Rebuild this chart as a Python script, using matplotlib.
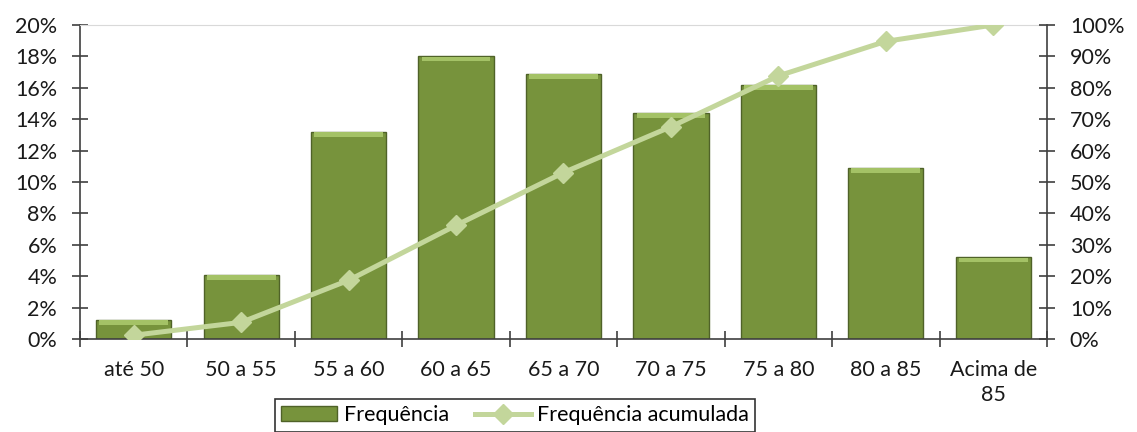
import numpy as np
import matplotlib
matplotlib.use("Agg")
import matplotlib.pyplot as plt
from matplotlib.ticker import PercentFormatter

plt.rcParams['font.family'] = ['Lato', 'DejaVu Sans']

# data
categorias = ['até 50', '50 a 55', '55 a 60', '60 a 65', '65 a 70',
              '70 a 75', '75 a 80', '80 a 85', 'Acima de\n85']
frequencia = [1.2, 4.1, 13.2, 18.0, 16.9, 14.4, 16.2, 10.9, 5.2]
acumulada = [1.2, 5.3, 18.7, 36.2, 53.0, 67.6, 83.8, 94.8, 100.0]

verde = '#77933C'
verde_escuro = '#4F6228'
verde_claro = '#C3D69B'
cinza = '#404040'
texto = '#1a1a1a'

fig = plt.figure(figsize=(11.37, 4.32), dpi=100)
ax = fig.add_axes([0.0704, 0.2153, 0.8504, 0.7268])
x = np.arange(len(categorias))

# bars with a lighter bevel strip on top
ax.bar(x, frequencia, width=0.7, color=verde, edgecolor=verde_escuro,
       linewidth=1, zorder=2, label='Frequência')
ax.bar(x, [0.3] * len(x), bottom=np.array(frequencia) - 0.32, width=0.64,
       color='#A4C266', linewidth=0, zorder=3)

ax.set_xlim(-0.5, len(x) - 0.5)
ax.set_ylim(0, 20)
ax.set_yticks(np.arange(0, 21, 2))
ax.yaxis.set_major_formatter(PercentFormatter(decimals=0))
ax.set_xticks(x)
ax.set_xticklabels(categorias, linespacing=1.3)
ax.set_xticks(np.arange(-0.5, len(x), 1), minor=True)
ax.tick_params(axis='x', which='major', length=0, pad=15, labelsize=15.5, colors=texto)
ax.tick_params(axis='x', which='minor', direction='inout', length=12, width=1.2, color=cinza)
ax.tick_params(axis='y', direction='inout', length=11, width=1.2, color=cinza,
               labelsize=15.5, labelcolor=texto, pad=11)

for s in ['left', 'bottom']:
    ax.spines[s].set_color(cinza)
    ax.spines[s].set_linewidth(1.2)
ax.spines['right'].set_visible(False)
ax.spines['top'].set_color('#D9D9D9')

ax2 = ax.twinx()
ax2.plot(x, acumulada, color=verde_claro, linewidth=3.6, marker='D',
         markersize=10, zorder=4, label='Frequência acumulada')
ax2.set_ylim(0, 100)
ax2.set_yticks(np.arange(0, 101, 10))
ax2.yaxis.set_major_formatter(PercentFormatter(decimals=0))
ax2.tick_params(axis='y', direction='inout', length=11, width=1.2, color=cinza,
                labelsize=15.5, labelcolor=texto, pad=11)
ax2.spines['right'].set_color(cinza)
ax2.spines['right'].set_linewidth(1.2)
for s in ['left', 'top', 'bottom']:
    ax2.spines[s].set_visible(False)

h1, l1 = ax.get_legend_handles_labels()
h2, l2 = ax2.get_legend_handles_labels()
leg = fig.legend(h1 + h2, l1 + l2, loc='upper center', bbox_to_anchor=(0.453, 0.102),
                 ncol=2, fontsize=15.5, frameon=True, fancybox=False,
                 handlelength=2.6, columnspacing=1.2, borderpad=0.3,
                 handletextpad=0.3)
leg.get_frame().set_edgecolor('black')
leg.get_frame().set_linewidth(1.2)

fig.savefig('out.png', dpi=100)
